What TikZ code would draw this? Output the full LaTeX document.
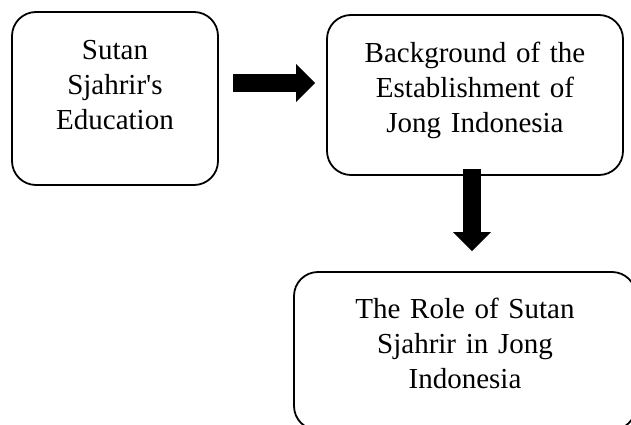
\documentclass[tikz,border=0pt]{standalone}
\usepackage{fontspec}
\setmainfont{Liberation Serif}[Ligatures=TeXOff]
\usetikzlibrary{arrows.meta}

\begin{document}
\begin{tikzpicture}[x=1pt,y=-1pt]
        \path[use as bounding box] (0,0) rectangle (631,425);
        \clip (0,0) rectangle (631,425);
        \begin{scope}[every node/.style={draw=black, line width=1.8pt, rounded corners=24pt, inner sep=0pt, align=center, font=\fontsize{29}{35}\selectfont}]
            \node[text width=206pt, text height=48pt, text depth=125pt] (1) at (115,98.5) {Sutan\\Sjahrir's\\Education};
            \node[text width=296pt, text height=48pt, text depth=112pt] (2) at (475,95) {Background of the\\Establishment of\\Jong Indonesia};
            \node[text width=342pt, text height=46pt, text depth=112pt] (3) at (465,351) {The Role of Sutan\\Sjahrir in Jong\\Indonesia};
        \end{scope}
        \begin{scope}[every edge/.style={draw, line width=18pt, -{Triangle[width=37pt, length=19pt]}}]
            \path ([xshift=14pt, yshift=15.5pt]1.east) edge ([xshift=-11pt, yshift=12pt]2.west);
            \path ([xshift=-3pt, yshift=7pt]2.south) edge ([xshift=7pt, yshift=20pt]3.north);
        \end{scope}
    \end{tikzpicture}
\end{document}
